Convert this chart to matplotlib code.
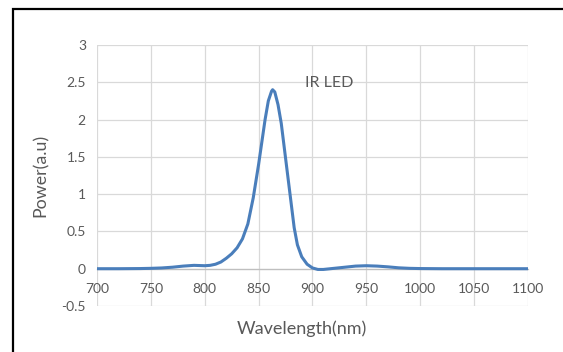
import matplotlib
matplotlib.use('Agg')
import matplotlib.pyplot as plt
from matplotlib.patches import Rectangle

plt.rcParams["font.family"] = ["Lato", "DejaVu Sans"]

# 光谱数据
wavelength = [700, 720, 740, 750, 760, 770, 780, 790, 800, 805, 810, 815, 820, 825,
              830, 835, 840, 845, 850, 853, 856, 859, 862, 863, 865, 868, 871, 874,
              877, 880, 883, 886, 890, 895, 900, 905, 910, 920, 930, 940, 950, 960,
              970, 980, 990, 1000, 1020, 1050, 1100]
power = [0, 0, 0.002, 0.005, 0.01, 0.02, 0.035, 0.045, 0.04, 0.045, 0.06, 0.09, 0.14, 0.2,
         0.28, 0.4, 0.6, 0.95, 1.4, 1.7, 2.0, 2.25, 2.38, 2.40, 2.37, 2.2, 1.95, 1.6,
         1.25, 0.9, 0.55, 0.32, 0.16, 0.06, 0.01, -0.01, -0.01, 0.005, 0.02, 0.035, 0.04, 0.035,
         0.025, 0.012, 0.005, 0.002, 0.0, 0.0, 0.0]

x_ticks = [700, 750, 800, 850, 900, 950, 1000, 1050, 1100]
y_ticks = [-0.5, 0, 0.5, 1, 1.5, 2, 2.5, 3]
y_tick_labels = ["-0.5", "0", "0.5", "1", "1.5", "2", "2.5", "3"]

text_color = "#595959"
grid_color = "#d9d9d9"

fig = plt.figure(figsize=(5.63, 3.52), dpi=100)
ax = fig.add_axes([0.1723, 0.1307, 0.7655, 0.7415])

# 网格线
for x in x_ticks:
    ax.axvline(x, color=grid_color, lw=0.9, zorder=0)
for y in y_ticks:
    ax.axhline(y, color=grid_color, lw=0.9, zorder=0)

ax.plot(wavelength, power, color="#4a7ebb", lw=2.2, solid_capstyle="round", zorder=3)

ax.set_xlim(700, 1100)
ax.set_ylim(-0.5, 3)
ax.set_xticks(x_ticks)
ax.set_yticks(y_ticks)
ax.set_yticklabels(y_tick_labels)

for s in ["top", "right", "left"]:
    ax.spines[s].set_visible(False)
ax.spines["bottom"].set_position(("data", 0))
ax.spines["bottom"].set_color("#bfbfbf")
ax.spines["bottom"].set_linewidth(0.9)
ax.tick_params(length=0, labelsize=10, colors=text_color)
ax.tick_params(axis="x", pad=10.5)
ax.tick_params(axis="y", pad=8)

ax.set_xlabel("Wavelength(nm)", fontsize=13, color=text_color)
ax.xaxis.set_label_coords(0.475, -0.055)
ax.set_ylabel("Power(a.u)", fontsize=12.8, color=text_color)
ax.yaxis.set_label_coords(-0.112, 0.5)

ax.text(0.483, 0.853, "IR LED", transform=ax.transAxes, fontsize=11.5,
        color=text_color, ha="left", va="center")

# 外边框
fig.patches.append(Rectangle((13 / 563, -0.1), 1.2, 1 - 9 / 352 + 0.1,
                             transform=fig.transFigure, fill=False,
                             edgecolor="black", lw=1.6))

fig.savefig("out.png", dpi=100)
